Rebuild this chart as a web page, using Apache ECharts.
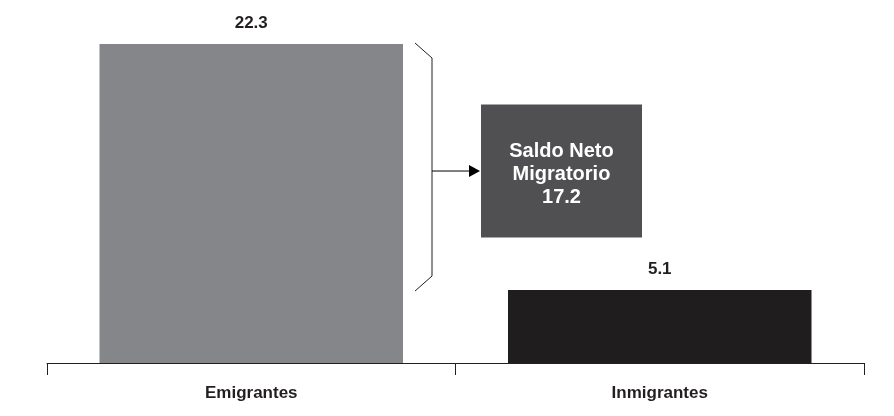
<!DOCTYPE html>
<html>
<head>
<meta charset="utf-8">
<script src="https://cdn.jsdelivr.net/npm/echarts@6/dist/echarts.min.js"></script>
<style>
  html, body { margin: 0; padding: 0; background: #fff; }
  #main { width: 894px; height: 416px; }
</style>
</head>
<body>
<div id="main"></div>
<script>
// datos
var categorias = ['Emigrantes', 'Inmigrantes']
var valores = [22.3, 5.1]
var colores = ['#858689', '#1f1d1e']
var saldoTexto = 'Saldo Neto'
var saldoTexto2 = 'Migratorio'

var chart = echarts.init(document.getElementById('main'))
var saldo = +(valores[0] - valores[1]).toFixed(1)
var fuente = '"Liberation Sans", Arial, sans-serif'

var option = {
    animation: false,
    grid: { left: 47, right: 30, top: 44, bottom: 53 },
    xAxis: {
        type: 'category',
        data: categorias,
        axisLine: { lineStyle: { color: '#231f20', width: 1 } },
        axisTick: { show: true, length: 12, lineStyle: { color: '#231f20' } },
        axisLabel: {
            margin: 22,
            color: '#231f20',
            fontFamily: fuente,
            fontWeight: 'bold',
            fontSize: 17
        }
    },
    yAxis: {
        type: 'value',
        min: 0,
        max: 22.3,
        show: false,
        splitLine: { show: false }
    },
    series: [{
        type: 'bar',
        barWidth: '74.3%',
        data: valores.map(function(v, i) {
            return { value: v, itemStyle: { color: colores[i] } }
        }),
        label: {
            show: true,
            position: 'top',
            distance: 12,
            color: '#231f20',
            fontFamily: fuente,
            fontWeight: 'bold',
            fontSize: 17
        }
    }]
}
chart.setOption(option)

// llave, flecha y recuadro del saldo
var p0 = chart.convertToPixel({ seriesIndex: 0 }, [0, valores[0]])
var p1 = chart.convertToPixel({ seriesIndex: 0 }, [1, valores[1]])
var pm = chart.convertToPixel({ seriesIndex: 0 }, [0, (valores[0] + valores[1]) / 2])
var catW = (p1[0] - p0[0])
var barRight = p0[0] + catW * 0.743 / 2
var bx0 = barRight + 12, bx1 = barRight + 29
var yTop = p0[1] - 1, yBot = p1[1] + 1, yMid = pm[1] + 4
var boxL = barRight + 78, boxW = 161, boxH = 133

chart.setOption({
    graphic: [
        {
            type: 'polyline',
            shape: { points: [[bx0, yTop], [bx1, yTop + 15], [bx1, yBot - 15], [bx0, yBot]] },
            style: { stroke: '#231f20', lineWidth: 1, fill: null }
        },
        {
            type: 'line',
            shape: { x1: bx1, y1: yMid, x2: boxL - 10, y2: yMid },
            style: { stroke: '#000', lineWidth: 1 }
        },
        {
            type: 'polygon',
            shape: { points: [[boxL - 1, yMid], [boxL - 12, yMid - 6], [boxL - 12, yMid + 6]] },
            style: { fill: '#000' }
        },
        {
            type: 'rect',
            shape: { x: boxL, y: yMid - boxH / 2, width: boxW, height: boxH },
            style: { fill: '#505052' }
        },
        {
            type: 'text',
            x: boxL + boxW / 2,
            y: yMid + 3,
            style: {
                text: saldoTexto + '\n' + saldoTexto2 + '\n' + saldo,
                fill: '#fff',
                font: 'bold 20px "Liberation Sans", Arial, sans-serif',
                lineHeight: 23,
                align: 'center',
                verticalAlign: 'middle'
            }
        }
    ]
})
</script>
</body>
</html>
